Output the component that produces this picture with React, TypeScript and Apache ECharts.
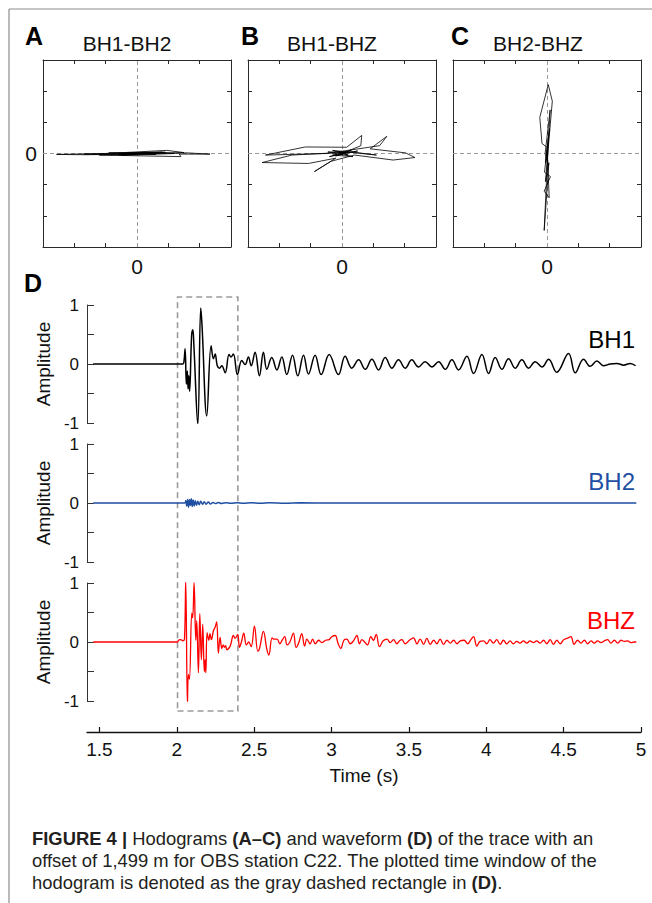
import React, { useEffect, useRef } from "react";
import * as echarts from "echarts";

// Hodogram particle-motion paths, [x, y] in relative amplitude units
const hodoBH1BH2: [number, number][] = [
  [0, 0], [0.5, 0.03], [-0.6, -0.02], [0.9, 0.04], [-1.2, -0.05], [1.4, -0.1], [1.35, -0.02],
  [2.33, -0.02], [1.6, 0.02], [-1.6, -0.04], [-2.57, -0.03], [-1.0, 0.0], [0.95, 0.1], [1.5, 0.03],
  [-0.8, -0.05], [-1.7, -0.02], [0.7, 0.05], [1.2, 0.0], [-0.5, -0.06], [0.4, 0.03], [-0.9, 0.02],
  [0.6, -0.03], [-0.3, 0.02], [0.3, 0.0], [-0.6, -0.04], [0.8, 0.04], [-0.2, -0.02], [0.2, 0.01], [0, 0],
];
const hodoBH1BHZ: [number, number][] = [
  [0, 0], [0.3, 0.1], [-0.4, -0.1], [0.5, 0.08], [-0.3, -0.05], [0.35, -0.1], [-0.45, 0.05],
  [0.2, 0.05], [-0.2, -0.08], [0.6, 0.25], [0.63, 0.58], [0.15, 0.2], [-1.17, 0.21], [-2.44, -0.05],
  [-0.5, 0.0], [1.2, 0.25], [1.43, 0.55], [0.9, 0.15], [2.03, 0.02], [2.33, -0.13], [1.63, -0.21],
  [0.4, -0.05], [-0.35, -0.25], [-0.88, -0.58], [-0.2, -0.15], [-1.07, -0.32], [-2.55, -0.29],
  [-1.6, -0.05], [0.3, 0.05], [1.1, -0.05], [-0.3, 0.1], [0.2, -0.05], [-0.1, 0.05], [0, 0],
];
const hodoBH2BHZ: [number, number][] = [
  [0, 0], [0.05, 0.4], [-0.05, -0.3], [0.08, 0.8], [-0.08, -0.6], [0.11, -0.74], [-0.09, -1.21],
  [0.07, -1.42], [0.0, 0.2], [-0.16, 0.32], [-0.23, 1.16], [0.04, 2.21], [0.17, 1.68], [0.05, 0.3],
  [-0.05, -0.9], [0.06, -0.3], [-0.09, -2.47], [0.0, -0.5], [0.1, 1.4], [-0.06, 0.0], [0.04, -0.4], [0, 0],
];

// Waveform traces, [time (s), normalised amplitude]
const traceBH1: [number, number][] = [
  [1.46, 0], [2.04, 0], [2.046, 0.03], [2.054, 0.26], [2.062, -0.34], [2.068, -0.12], [2.073, -0.42],
  [2.078, -0.2], [2.083, -0.46], [2.096, 0.48], [2.104, 0.58], [2.111, 0.3], [2.136, -1.03],
  [2.155, 0.95], [2.163, 0.67], [2.194, -0.88], [2.222, 0.31], [2.237, 0.09], [2.248, 0.17],
  [2.262, -0.03], [2.276, -0.07], [2.291, -0.03], [2.313, -0.15], [2.338, 0.16], [2.351, 0.12],
  [2.366, 0.17], [2.392, -0.18], [2.42, 0.06], [2.442, -0.01], [2.463, 0.12], [2.481, -0.03],
  [2.506, 0.2], [2.534, -0.2], [2.56, 0.2], [2.582, -0.09], [2.614, 0.11], [2.647, -0.1],
  [2.679, 0.12], [2.711, -0.18], [2.748, 0.15], [2.782, -0.2], [2.819, 0.15], [2.851, -0.17],
  [2.894, 0.15], [2.933, -0.18], [2.985, 0.16], [3.045, -0.18], [3.088, 0.13], [3.131, -0.07],
  [3.175, 0.07], [3.218, -0.09], [3.261, 0.08], [3.304, -0.1], [3.347, 0.11], [3.39, -0.07],
  [3.433, 0.07], [3.476, -0.07], [3.519, 0.07], [3.562, -0.05], [3.605, 0.04], [3.649, -0.05],
  [3.692, 0.04], [3.735, -0.09], [3.778, 0.07], [3.821, -0.1], [3.875, 0.13], [3.918, -0.16],
  [3.972, 0.16], [4.015, -0.16], [4.058, 0.11], [4.101, -0.09], [4.144, 0.09], [4.187, -0.07],
  [4.23, 0.07], [4.273, -0.07], [4.316, 0.04], [4.36, -0.05], [4.403, 0.08], [4.455, -0.14],
  [4.532, 0.18], [4.575, -0.15], [4.629, 0.08], [4.672, -0.04], [4.715, 0.05], [4.758, -0.03],
  [4.801, 0.0], [4.844, 0.01], [4.888, -0.02], [4.931, 0.01], [4.965, -0.03],
];
const traceBH2: [number, number][] = [
  [1.46, 0], [2.052, 0], [2.058, 0.04], [2.064, -0.05], [2.07, 0.06], [2.076, -0.07], [2.082, 0.06],
  [2.088, -0.04], [2.094, 0.07], [2.1, -0.06], [2.106, 0.05], [2.113, -0.05], [2.12, 0.04],
  [2.128, -0.04], [2.136, 0.03], [2.145, -0.03], [2.155, 0.03], [2.166, -0.02], [2.178, 0.02],
  [2.19, -0.02], [2.204, 0.015], [2.218, -0.015], [2.234, 0.01], [2.25, -0.01], [2.268, 0.008],
  [2.29, -0.008], [2.32, 0.006], [2.35, -0.006], [2.39, 0.006], [2.43, -0.005], [2.48, 0.005],
  [2.54, -0.004], [2.6, 0.004], [2.7, -0.003], [2.8, 0.003], [3.0, 0], [4.97, 0],
];
const traceBHZ: [number, number][] = [
  [1.46, 0], [2.005, 0], [2.011, 0.03], [2.025, 0.04], [2.04, 0.02], [2.05, 0.05], [2.058, 1.04],
  [2.069, -1.07], [2.075, -0.55], [2.082, -0.63], [2.097, 0.49], [2.103, 0.41], [2.112, 1.01],
  [2.123, 0.03], [2.129, 0.36], [2.14, -0.52], [2.149, 0.48], [2.159, -0.3], [2.168, 0.3],
  [2.178, -0.5], [2.183, -0.3], [2.188, -0.52], [2.196, 0.16], [2.207, 0.03], [2.215, 0.14],
  [2.224, 0.04], [2.237, 0.19], [2.248, 0.25], [2.258, 0.34], [2.269, -0.19], [2.28, 0.08],
  [2.291, -0.11], [2.3, -0.05], [2.308, -0.09], [2.316, -0.06], [2.323, -0.13], [2.345, -0.07],
  [2.366, 0.11], [2.377, 0.06], [2.394, 0.13], [2.405, -0.09], [2.418, 0.0], [2.433, 0.15],
  [2.45, -0.05], [2.465, 0.0], [2.481, -0.08], [2.502, 0.27], [2.524, -0.16], [2.535, -0.11],
  [2.56, 0.18], [2.582, -0.12], [2.595, -0.22], [2.616, 0.07], [2.627, 0.05], [2.648, 0.05],
  [2.666, -0.03], [2.681, 0.03], [2.698, 0.09], [2.713, -0.05], [2.731, 0.0], [2.754, 0.15],
  [2.771, -0.09], [2.786, -0.03], [2.808, 0.14], [2.826, -0.07], [2.841, 0.05], [2.862, -0.03],
  [2.878, 0.05], [2.895, -0.03], [2.917, 0.03], [2.938, -0.01], [2.962, 0.03], [2.985, 0.04],
  [3.002, 0.09], [3.024, 0.11], [3.042, -0.02], [3.06, -0.11], [3.08, 0.03], [3.099, 0.05],
  [3.121, -0.03], [3.142, 0.02], [3.164, 0.11], [3.181, -0.03], [3.196, 0.04], [3.214, 0.0],
  [3.233, -0.05], [3.254, 0.09], [3.271, 0.03], [3.289, 0.13], [3.31, -0.08], [3.334, 0.02],
  [3.358, 0.05], [3.379, -0.01], [3.401, 0.04], [3.422, -0.03], [3.44, 0.02], [3.455, 0.04],
  [3.476, -0.03], [3.503, 0.03], [3.53, 0.07], [3.552, -0.03], [3.573, 0.05], [3.595, -0.04],
  [3.616, 0.06], [3.638, -0.04], [3.66, 0.03], [3.681, -0.03], [3.702, 0.05], [3.724, -0.04],
  [3.746, 0.03], [3.768, -0.02], [3.789, 0.03], [3.811, -0.03], [3.832, 0.02], [3.857, 0.03],
  [3.88, -0.03], [3.901, 0.04], [3.918, 0.09], [3.939, -0.07], [3.96, 0.01], [3.982, 0.02],
  [4.003, -0.03], [4.024, 0.04], [4.046, -0.02], [4.068, 0.04], [4.09, -0.04], [4.111, 0.03],
  [4.132, -0.03], [4.154, 0.02], [4.175, -0.03], [4.197, 0.01], [4.218, -0.02], [4.24, 0.02],
  [4.262, -0.02], [4.283, 0.02], [4.305, -0.01], [4.326, 0.02], [4.348, -0.02], [4.37, 0.03],
  [4.391, -0.03], [4.413, 0.04], [4.434, -0.04], [4.456, 0.03], [4.478, -0.03], [4.5, 0.04],
  [4.521, 0.06], [4.547, 0.09], [4.567, -0.04], [4.59, 0.03], [4.612, -0.02], [4.634, 0.03],
  [4.655, -0.03], [4.677, 0.02], [4.698, -0.02], [4.72, 0.02], [4.741, -0.01], [4.763, 0.02],
  [4.784, 0.04], [4.806, -0.02], [4.828, 0.03], [4.849, -0.02], [4.871, 0.03], [4.892, 0.01],
  [4.914, 0.02], [4.935, -0.01], [4.957, 0.0], [4.97, 0.0],
];

const panelLetters = ["A", "B", "C"];
const panelTitles = ["BH1-BH2", "BH1-BHZ", "BH2-BHZ"];
const hodoPaths = [hodoBH1BH2, hodoBH1BHZ, hodoBH2BHZ];
const hodoTicks = [-2, -1, 1, 2];
const hodoLabels = [0];
const traceNames = ["BH1", "BH2", "BHZ"];
const traceColors = ["#000000", "#1f4fa3", "#ff0000"];
const traces = [traceBH1, traceBH2, traceBHZ];
const timeTicks = [1.5, 2, 2.5, 3, 3.5, 4, 4.5, 5];
const ampLabels = [-1, 0, 1];
const hodoWindow = [2.005, 2.395];

const FONT = "'Liberation Sans', Arial, Helvetica, sans-serif";
const AXIS_COLOR = "#2a2a2a";

export default function App() {
  const ref = useRef<HTMLDivElement>(null);

  useEffect(() => {
    if (!ref.current) return;
    const chart = echarts.init(ref.current, undefined, { renderer: "svg" });

    const hodoGridLefts = [43, 248, 453];
    const grid: any[] = hodoGridLefts.map((left) => ({ left, top: 60, width: 188, height: 187 }));
    grid.push(
      { left: 87, top: 305, width: 554, height: 118 },
      { left: 87, top: 444, width: 554, height: 118 },
      { left: 87, top: 583, width: 554, height: 118 },
      { left: 87, top: 297, width: 554, height: 414 }
    );

    const xAxis: any[] = [];
    const yAxis: any[] = [];
    const tickStyle = { lineStyle: { color: AXIS_COLOR, width: 1 } };
    const lineStyle = { lineStyle: { color: AXIS_COLOR, width: 1 } };

    // Hodogram frames: four axes per box, ticks pointing inward
    for (let i = 0; i < 3; i++) {
      for (const pos of ["bottom", "top"]) {
        xAxis.push({
          type: "value", gridIndex: i, position: pos, min: -3, max: 3, interval: 1,
          axisLine: { show: true, onZero: false, ...lineStyle },
          axisTick: { show: true, inside: true, length: 4, customValues: hodoTicks, ...tickStyle },
          axisLabel: pos === "bottom"
            ? { show: true, customValues: hodoLabels, fontSize: 21, color: "#111", margin: 9, fontFamily: FONT }
            : { show: false },
          splitLine: { show: false },
        });
      }
      for (const pos of ["left", "right"]) {
        yAxis.push({
          type: "value", gridIndex: i, position: pos, min: -3, max: 3, interval: 1,
          axisLine: { show: true, onZero: false, ...lineStyle },
          axisTick: { show: true, inside: true, length: 4, customValues: hodoTicks, ...tickStyle },
          axisLabel: pos === "left" && i === 0
            ? { show: true, customValues: hodoLabels, fontSize: 21, color: "#111", margin: 6, fontFamily: FONT }
            : { show: false },
          splitLine: { show: false },
        });
      }
    }

    // Waveform panels
    for (let k = 0; k < 3; k++) {
      const isLast = k === 2;
      xAxis.push({
        type: "value", gridIndex: 3 + k, min: 1.42, max: 5,
        show: isLast,
        offset: isLast ? 31 : 0,
        name: isLast ? "Time (s)" : "",
        nameLocation: "middle",
        nameGap: 34,
        nameTextStyle: { fontSize: 19, color: "#111", fontFamily: FONT },
        axisLine: { show: true, onZero: false, lineStyle: { color: "#111", width: 1.3 } },
        axisTick: { show: true, inside: true, length: 5, customValues: timeTicks, lineStyle: { color: "#111", width: 1.2 } },
        axisLabel: { show: true, customValues: timeTicks, fontSize: 19, color: "#111", margin: 8, fontFamily: FONT },
        splitLine: { show: false },
      });
      yAxis.push({
        type: "value", gridIndex: 3 + k, min: -1, max: 1, interval: 0.5,
        name: "Amplitude",
        nameLocation: "middle",
        nameGap: 21,
        nameTextStyle: { fontSize: 19, color: "#111", fontFamily: FONT },
        axisLine: { show: true, onZero: false, lineStyle: { color: "#333", width: 1 } },
        axisTick: { show: true, inside: true, length: 7, lineStyle: { color: "#333", width: 1 } },
        axisLabel: {
          show: true, fontSize: 17, color: "#111", margin: 8, fontFamily: FONT,
          formatter: (v: number) => (ampLabels.includes(v) ? String(v) : ""),
        },
        splitLine: { show: false },
      });
    }

    // Overlay coordinate system spanning all three traces, for the hodogram window
    xAxis.push({ type: "value", gridIndex: 6, min: 1.42, max: 5, show: false });
    yAxis.push({ type: "value", gridIndex: 6, min: 0, max: 1, show: false });

    const series: any[] = hodoPaths.map((path, i) => ({
      type: "line",
      xAxisIndex: i * 2,
      yAxisIndex: i * 2,
      data: path,
      showSymbol: false,
      lineStyle: { color: "#000", width: 0.8 },
      z: 3,
      markLine: {
        silent: true,
        symbol: ["none", "none"],
        label: { show: false },
        lineStyle: { color: "#9a9a9a", type: [4, 3], width: 1 },
        data: [{ xAxis: 0 }, { yAxis: 0 }],
        z: 2,
      },
    }));

    traces.forEach((trace, k) => {
      series.push({
        type: "line",
        name: traceNames[k],
        xAxisIndex: 6 + k,
        yAxisIndex: 6 + k,
        data: trace,
        showSymbol: false,
        smooth: 0.4,
        lineStyle: { color: traceColors[k], width: k === 2 ? 1.3 : 1.5 },
      });
    });

    series.push({
      type: "line",
      xAxisIndex: 9,
      yAxisIndex: 9,
      data: [[hodoWindow[0], 0]],
      showSymbol: false,
      lineStyle: { width: 0 },
      z: 4,
      markArea: {
        silent: true,
        itemStyle: {
          color: "rgba(0,0,0,0)",
          borderColor: "#9a9a9a",
          borderWidth: 1.6,
          borderType: [6, 4],
        },
        data: [[{ xAxis: hodoWindow[0], yAxis: 0 }, { xAxis: hodoWindow[1], yAxis: 1 }]],
      },
    });

    const graphic: any[] = [
      { type: "line", shape: { x1: 9, y1: 9, x2: 652, y2: 9 }, style: { stroke: "#8c8c8c", lineWidth: 1.2 } },
      { type: "line", shape: { x1: 9, y1: 9, x2: 9, y2: 903 }, style: { stroke: "#8c8c8c", lineWidth: 1.2 } },
    ];

    const letterX = [34, 250, 460];
    const titleX = [127, 332, 538];
    for (let i = 0; i < 3; i++) {
      graphic.push({
        type: "text", x: letterX[i], y: 36,
        style: { text: panelLetters[i], font: `bold 25px ${FONT}`, fill: "#000", align: "center", verticalAlign: "middle" },
      });
      graphic.push({
        type: "text", x: titleX[i], y: 43,
        style: { text: panelTitles[i], font: `21px ${FONT}`, fill: "#111", align: "center", verticalAlign: "middle" },
      });
    }
    graphic.push({
      type: "text", x: 33, y: 283,
      style: { text: "D", font: `bold 25px ${FONT}`, fill: "#000", align: "center", verticalAlign: "middle" },
    });

    const traceLabelY = [339, 481, 620];
    for (let k = 0; k < 3; k++) {
      graphic.push({
        type: "text", x: 635, y: traceLabelY[k],
        style: { text: traceNames[k], font: `24px ${FONT}`, fill: traceColors[k], align: "right", verticalAlign: "middle" },
      });
    }

    const captionLines = [
      "{b|FIGURE 4 |} Hodograms {b|(A–C)} and waveform {b|(D)} of the trace with an",
      "offset of 1,499 m for OBS station C22. The plotted time window of the",
      "hodogram is denoted as the gray dashed rectangle in {b|(D)}.",
    ];
    const captionY = [838, 860, 882];
    captionLines.forEach((line, i) => {
      graphic.push({
        type: "text", x: 32, y: captionY[i],
        style: {
          text: line,
          font: `18.4px ${FONT}`,
          fill: "#231f20",
          align: "left",
          verticalAlign: "middle",
          rich: { b: { fontWeight: "bold", fontSize: 18.4, fontFamily: FONT, fill: "#231f20" } },
        },
      });
    });

    chart.setOption({
      animation: false,
      backgroundColor: "#ffffff",
      textStyle: { fontFamily: FONT },
      grid,
      xAxis,
      yAxis,
      series,
      graphic,
    });

    return () => chart.dispose();
  }, []);

  return (
    <div
      ref={ref}
      style={{ position: "absolute", left: 0, top: 0, width: 652, height: 903, background: "#fff" }}
    />
  );
}
